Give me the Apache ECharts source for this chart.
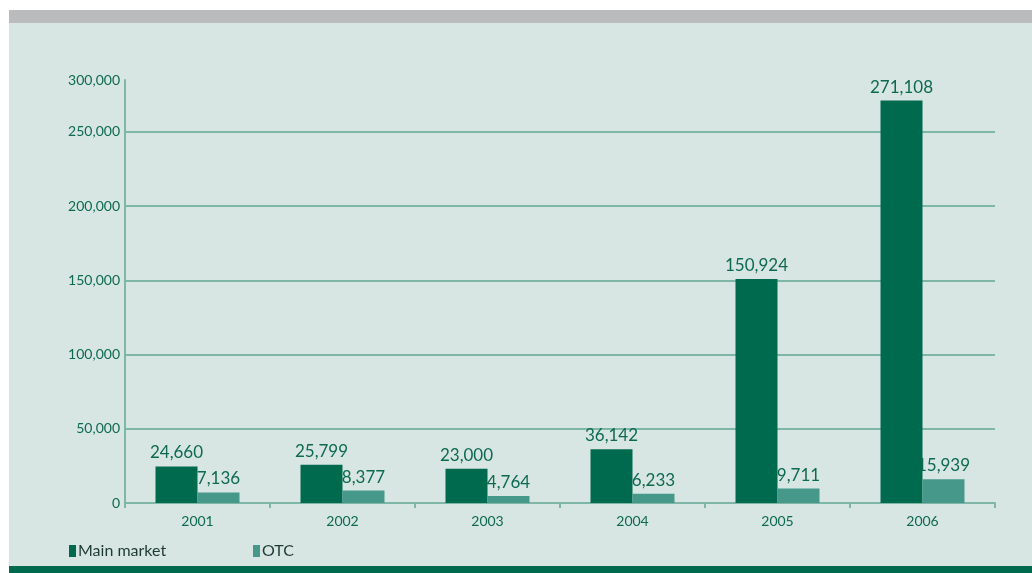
<!DOCTYPE html>
<html>
<head>
<meta charset="utf-8">
<script src="https://cdn.jsdelivr.net/npm/echarts@6/dist/echarts.min.js"></script>
<style>
html,body{margin:0;padding:0;background:#ffffff;}
#chart{width:1032px;height:573px;}
</style>
</head>
<body>
<div id="chart"></div>
<script>
const categories = ['2001', '2002', '2003', '2004', '2005', '2006'];
const mainMarket = [24660, 25799, 23000, 36142, 150924, 271108];
const otc = [7136, 8377, 4764, 6233, 9711, 15939];
const seriesNames = ['Main market', 'OTC'];
const yTopLabel = '300,000';

const FONT = 'Lato';
const TEXT = '#0d6a4e';
const GRID = '#7fb7a7';
const fmt = v => Number(v).toLocaleString('en-US');

const chart = echarts.init(document.getElementById('chart'), null, {renderer: 'canvas'});
chart.setOption({
  animation: false,
  backgroundColor: '#ffffff',
  textStyle: {fontFamily: FONT},
  graphic: [
    {type: 'rect', silent: true, z: -10, shape: {x: 9, y: 10, width: 1023, height: 13}, style: {fill: '#b9bbbd'}},
    {type: 'rect', silent: true, z: -10, shape: {x: 9, y: 23, width: 1023, height: 543}, style: {fill: '#d8e6e3'}},
    {type: 'rect', silent: true, z: -10, shape: {x: 9, y: 566, width: 1023, height: 7}, style: {fill: '#006a4e'}}
  ],
  grid: {left: 125, right: 37, top: 80, bottom: 70, containLabel: false},
  legend: [
    {data: [seriesNames[0]], left: 64, top: 538, icon: 'rect', itemWidth: 7, itemHeight: 12, itemGap: 3,
     textStyle: {fontFamily: FONT, fontSize: 16, color: '#1d3a32', padding: [0, 0, 0, -3]}},
    {data: [seriesNames[1]], left: 248, top: 538, icon: 'rect', itemWidth: 7, itemHeight: 12, itemGap: 3,
     textStyle: {fontFamily: FONT, fontSize: 16, color: '#1d3a32', padding: [0, 0, 0, -3]}}
  ],
  xAxis: {
    type: 'category',
    data: categories,
    axisLine: {lineStyle: {color: GRID, width: 2}},
    axisTick: {show: true, length: 5, lineStyle: {color: GRID, width: 2}},
    axisLabel: {color: TEXT, fontFamily: FONT, fontSize: 14, margin: 11}
  },
  yAxis: {
    type: 'value',
    min: 0,
    max: 285000,
    interval: 50000,
    axisLine: {show: true, lineStyle: {color: GRID, width: 2}},
    axisTick: {show: false},
    splitLine: {show: true, showMaxLine: false, lineStyle: {color: GRID, width: 2}},
    axisLabel: {
      color: TEXT, fontFamily: FONT, fontSize: 14, margin: 5, showMaxLabel: true,
      formatter: v => (v === 285000 ? yTopLabel : fmt(v))
    }
  },
  series: [
    {
      name: seriesNames[0], type: 'bar', data: mainMarket,
      barWidth: 42, barGap: '0%',
      itemStyle: {color: '#006a4e'},
      label: {show: true, position: 'top', distance: 5, color: TEXT, fontFamily: FONT, fontSize: 17, formatter: p => fmt(p.value)}
    },
    {
      name: seriesNames[1], type: 'bar', data: otc,
      barWidth: 42, barGap: '0%',
      itemStyle: {color: '#46988a'},
      label: {show: true, position: 'top', distance: 5, color: TEXT, fontFamily: FONT, fontSize: 17, formatter: p => fmt(p.value)}
    }
  ]
});
</script>
</body>
</html>
